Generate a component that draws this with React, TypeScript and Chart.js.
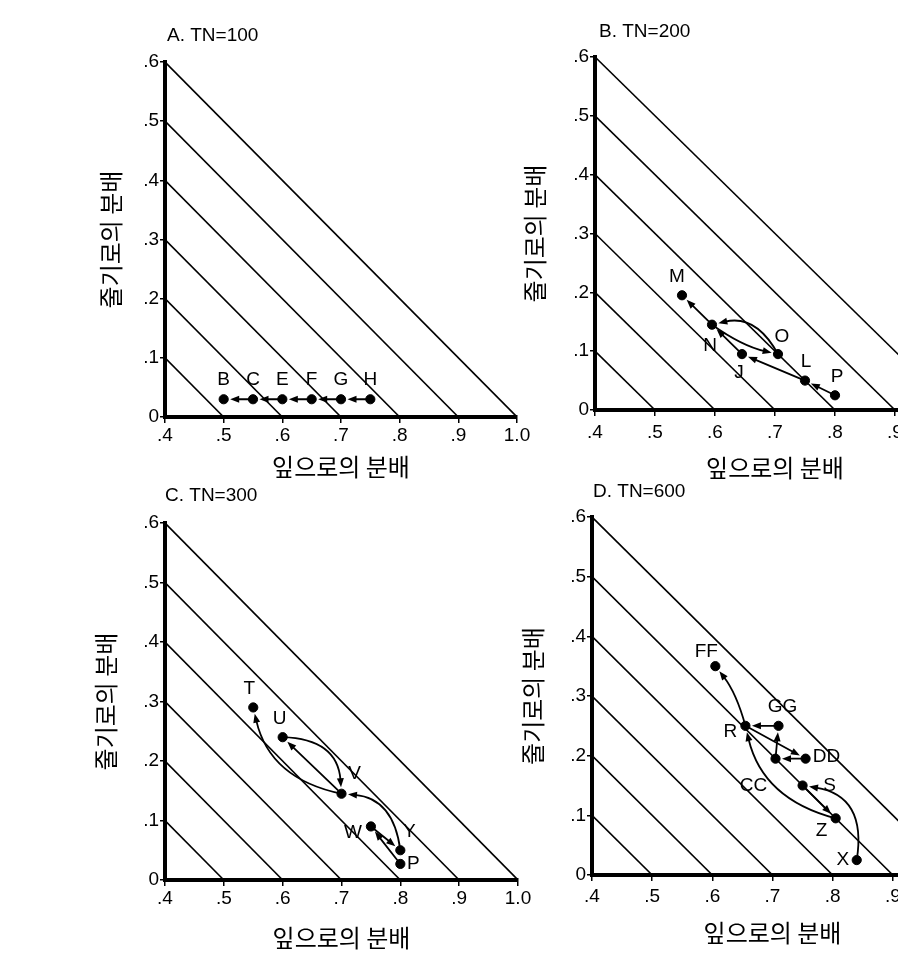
import React, { useEffect, useRef } from 'react';
import { Chart, registerables } from 'chart.js';

Chart.register(...registerables);

const LATIN = '"Liberation Sans", Arial, Helvetica, sans-serif';
const CJK = '"Noto Sans CJK KR", "Noto Sans", sans-serif';

// ---- shared axes ----
const X_TICK_VALUES = [0.4, 0.5, 0.6, 0.7, 0.8, 0.9, 1.0];
const X_TICK_LABELS = ['.4', '.5', '.6', '.7', '.8', '.9', '1.0'];
const Y_TICK_VALUES = [0, 0.1, 0.2, 0.3, 0.4, 0.5, 0.6];
const Y_TICK_LABELS = ['0', '.1', '.2', '.3', '.4', '.5', '.6'];
const DIAGONAL_TOTALS = [0.5, 0.6, 0.7, 0.8, 0.9, 1.0];
const X_TITLE = '잎으로의 분배';
const Y_TITLE = '줄기로의 분배';

// ---- Panel A ----
const A_TITLE = 'A. TN=100';
const A_NAMES = ['B', 'C', 'E', 'F', 'G', 'H'];
const A_LEAF = [0.5, 0.55, 0.6, 0.65, 0.7, 0.75];
const A_STEM = [0.03, 0.03, 0.03, 0.03, 0.03, 0.03];
const A_ARROWS: [string, string, number][] = [
  ['H', 'G', 0], ['G', 'F', 0], ['F', 'E', 0], ['E', 'C', 0], ['C', 'B', 0],
];

// ---- Panel B ----
const B_TITLE = 'B. TN=200';
const B_NAMES = ['M', 'N', 'O', 'J', 'L', 'P'];
const B_LEAF = [0.545, 0.595, 0.705, 0.645, 0.75, 0.8];
const B_STEM = [0.195, 0.145, 0.095, 0.095, 0.05, 0.025];
const B_ARROWS: [string, string, number][] = [
  ['P', 'L', 0], ['L', 'J', 0], ['J', 'N', 0], ['N', 'O', 0.1], ['O', 'N', 0.38], ['N', 'M', 0],
];

// ---- Panel C ----
const C_TITLE = 'C. TN=300';
const C_NAMES = ['T', 'U', 'V', 'W', 'Y', 'P'];
const C_LEAF = [0.55, 0.6, 0.7, 0.75, 0.8, 0.8];
const C_STEM = [0.29, 0.24, 0.145, 0.09, 0.05, 0.027];
const C_ARROWS: [string, string, number][] = [
  ['P', 'W', 0], ['W', 'Y', 0], ['Y', 'V', 0.4], ['V', 'U', 0], ['U', 'V', -0.45], ['V', 'T', -0.32],
];

// ---- Panel D ----
const D_TITLE = 'D. TN=600';
const D_NAMES = ['FF', 'R', 'GG', 'CC', 'DD', 'S', 'Z', 'X'];
const D_LEAF = [0.605, 0.655, 0.71, 0.705, 0.755, 0.75, 0.805, 0.84];
const D_STEM = [0.35, 0.25, 0.25, 0.195, 0.195, 0.15, 0.095, 0.025];
const D_ARROWS: [string, string, number][] = [
  ['X', 'S', 0.5], ['S', 'Z', 0], ['Z', 'R', -0.3], ['R', 'DD', 0], ['DD', 'CC', 0],
  ['CC', 'GG', 0], ['GG', 'R', 0], ['R', 'FF', 0.1],
];

// ---- label placement (pixel offsets from each point) ----
const A_LABEL_OFFSETS: [number, number][] = [[0, -19], [0, -19], [0, -19], [0, -19], [0, -19], [0, -19]];
const B_LABEL_OFFSETS: [number, number][] = [[-5, -19], [-2, 21], [4, -17], [-3, 19], [1, -19], [2, -19]];
const C_LABEL_OFFSETS: [number, number][] = [[-4, -19], [-3, -18], [13, -20], [-18, 6], [9, -18], [13, 0]];
const D_LABEL_OFFSETS: [number, number][] = [[-9, -14], [-15, 6], [4, -19], [-22, 27], [21, -2], [27, 0], [-14, 12], [-14, 0]];

// ---- page layout of each panel ----
type Layout = {
  left: number; top: number; right: number; bottom: number;
  titleX: number; titleY: number; yTitleX: number; xTitleY: number; xTickY: number;
};
const LAYOUT_A: Layout = { left: 165, top: 62, right: 517, bottom: 417, titleX: 167, titleY: 36, yTitleX: 111, xTitleY: 467, xTickY: 436 };
const LAYOUT_B: Layout = { left: 595, top: 57, right: 955, bottom: 410, titleX: 599, titleY: 32, yTitleX: 535, xTitleY: 468, xTickY: 433 };
const LAYOUT_C: Layout = { left: 165, top: 523, right: 518, bottom: 880, titleX: 165, titleY: 496, yTitleX: 106, xTitleY: 938, xTickY: 899 };
const LAYOUT_D: Layout = { left: 592, top: 517, right: 953, bottom: 875, titleX: 593, titleY: 492, yTitleX: 533, xTitleY: 933, xTickY: 897 };

type PanelSpec = {
  title: string; names: string[]; leaf: number[]; stem: number[];
  arrows: [string, string, number][]; labelOffsets: [number, number][]; layout: Layout;
};

const PANELS: PanelSpec[] = [
  { title: A_TITLE, names: A_NAMES, leaf: A_LEAF, stem: A_STEM, arrows: A_ARROWS, labelOffsets: A_LABEL_OFFSETS, layout: LAYOUT_A },
  { title: B_TITLE, names: B_NAMES, leaf: B_LEAF, stem: B_STEM, arrows: B_ARROWS, labelOffsets: B_LABEL_OFFSETS, layout: LAYOUT_B },
  { title: C_TITLE, names: C_NAMES, leaf: C_LEAF, stem: C_STEM, arrows: C_ARROWS, labelOffsets: C_LABEL_OFFSETS, layout: LAYOUT_C },
  { title: D_TITLE, names: D_NAMES, leaf: D_LEAF, stem: D_STEM, arrows: D_ARROWS, labelOffsets: D_LABEL_OFFSETS, layout: LAYOUT_D },
];

const AXIS_W = 130;
const AXIS_H = 80;
const PAD_TOP = 60;
const PAD_RIGHT = 40;
const TICK_FONT = 19;
const LABEL_FONT = 19;
const AXIS_TITLE_FONT = 24;

function drawArrow(ctx: CanvasRenderingContext2D, sx: number, sy: number, ex: number, ey: number, bend: number) {
  const dx = ex - sx;
  const dy = ey - sy;
  const len = Math.hypot(dx, dy) || 1;
  const nx = -dy / len;
  const ny = dx / len;
  const cx = (sx + ex) / 2 + nx * bend * len;
  const cy = (sy + ey) / 2 + ny * bend * len;
  let tx = ex - cx;
  let ty = ey - cy;
  const tl = Math.hypot(tx, ty) || 1;
  tx /= tl;
  ty /= tl;
  const gap = 6.5;
  const headLen = 9;
  const headHalf = 3.5;
  const tipX = ex - tx * gap;
  const tipY = ey - ty * gap;
  const baseX = tipX - tx * headLen;
  const baseY = tipY - ty * headLen;
  ctx.beginPath();
  ctx.moveTo(sx, sy);
  if (bend === 0) ctx.lineTo(baseX + tx * 2, baseY + ty * 2);
  else ctx.quadraticCurveTo(cx, cy, baseX + tx * 2, baseY + ty * 2);
  ctx.stroke();
  ctx.beginPath();
  ctx.moveTo(tipX, tipY);
  ctx.lineTo(baseX - ty * headHalf, baseY + tx * headHalf);
  ctx.lineTo(baseX + ty * headHalf, baseY - tx * headHalf);
  ctx.closePath();
  ctx.fill();
}

function PanelChart({ panel }: { panel: PanelSpec }) {
  const ref = useRef<HTMLCanvasElement>(null);
  const lay = panel.layout;
  const cw = lay.right - lay.left + AXIS_W + PAD_RIGHT;
  const ch = lay.bottom - lay.top + PAD_TOP + AXIS_H;

  useEffect(() => {
    const canvas = ref.current;
    if (!canvas) return;
    const points = panel.names.map((_, i) => ({ x: panel.leaf[i], y: panel.stem[i] }));
    const diagonals = DIAGONAL_TOTALS.map((c) => ({
      data: [{ x: 0.4, y: c - 0.4 }, { x: c, y: 0 }],
      showLine: true,
      borderColor: '#000',
      borderWidth: 1.6,
      pointRadius: 0,
      pointHoverRadius: 0,
      order: 2,
    }));

    const overlay = {
      id: 'overlay',
      afterDatasetsDraw(chart: any) {
        const { ctx, chartArea } = chart;
        const xs = chart.scales.x;
        const ys = chart.scales.y;
        const px = (name: string) => {
          const i = panel.names.indexOf(name);
          return [xs.getPixelForValue(panel.leaf[i]), ys.getPixelForValue(panel.stem[i])];
        };
        ctx.save();
        ctx.strokeStyle = '#000';
        ctx.fillStyle = '#000';
        ctx.lineWidth = 1.8;
        ctx.lineCap = 'round';
        panel.arrows.forEach(([from, to, bend]) => {
          const [sx, sy] = px(from);
          const [ex, ey] = px(to);
          drawArrow(ctx, sx, sy, ex, ey, bend);
        });
        ctx.font = `${LABEL_FONT}px ${LATIN}`;
        ctx.textAlign = 'center';
        ctx.textBaseline = 'middle';
        panel.names.forEach((n, i) => {
          const [x, y] = px(n);
          const [ox, oy] = panel.labelOffsets[i];
          ctx.fillText(n, x + ox, y + oy);
        });
        ctx.textAlign = 'left';
        ctx.font = `19px ${LATIN}`;
        ctx.fillText(panel.title, chartArea.left + (lay.titleX - lay.left), chartArea.top + (lay.titleY - lay.top));
        ctx.restore();
      },
    };

    const tickPad = lay.xTickY - lay.bottom - 6 - (TICK_FONT * 1.2) / 2;
    const xTitlePad = AXIS_H - (AXIS_TITLE_FONT * 1.2) / 2 - (lay.xTitleY - lay.bottom);
    const yTitlePad = lay.yTitleX - (lay.left - AXIS_W) - (AXIS_TITLE_FONT * 1.2) / 2;

    const chart = new Chart(canvas, {
      type: 'scatter',
      data: {
        datasets: [
          {
            data: points,
            backgroundColor: '#000',
            borderColor: '#000',
            pointRadius: 4.6,
            pointHoverRadius: 4.6,
            order: 0,
          } as any,
          ...(diagonals as any[]),
        ],
      },
      options: {
        responsive: false,
        animation: false,
        events: [],
        layout: { padding: { left: 0, top: PAD_TOP, right: PAD_RIGHT, bottom: 0 } },
        plugins: { legend: { display: false }, tooltip: { enabled: false }, title: { display: false } },
        scales: {
          x: {
            type: 'linear',
            min: 0.4,
            max: 1.0,
            afterFit: (s: any) => { s.height = AXIS_H; },
            afterBuildTicks: (s: any) => { s.ticks = X_TICK_VALUES.map((v) => ({ value: v })); },
            grid: { display: true, drawOnChartArea: false, drawTicks: true, tickLength: 6, color: '#000', lineWidth: 1.5 },
            border: { display: true, color: '#000', width: 4 },
            ticks: {
              color: '#000',
              font: { family: LATIN, size: TICK_FONT },
              padding: tickPad,
              maxRotation: 0,
              autoSkip: false,
              callback: (_v: any, i: number) => X_TICK_LABELS[i],
            },
            title: {
              display: true,
              text: X_TITLE,
              color: '#000',
              font: { family: CJK, size: AXIS_TITLE_FONT },
              padding: { top: 0, bottom: xTitlePad },
            },
          },
          y: {
            type: 'linear',
            min: 0,
            max: 0.6,
            afterFit: (s: any) => { s.width = AXIS_W; },
            afterBuildTicks: (s: any) => { s.ticks = Y_TICK_VALUES.map((v) => ({ value: v })); },
            grid: { display: true, drawOnChartArea: false, drawTicks: true, tickLength: 5, color: '#000', lineWidth: 1.5 },
            border: { display: true, color: '#000', width: 4 },
            ticks: {
              color: '#000',
              font: { family: LATIN, size: TICK_FONT },
              padding: 1,
              autoSkip: false,
              callback: (_v: any, i: number) => Y_TICK_LABELS[i],
            },
            title: {
              display: true,
              text: Y_TITLE,
              color: '#000',
              font: { family: CJK, size: AXIS_TITLE_FONT },
              padding: { top: yTitlePad, bottom: 0 },
            },
          },
        },
      } as any,
      plugins: [overlay],
    });
    return () => chart.destroy();
  }, []);

  return (
    <canvas
      ref={ref}
      width={cw}
      height={ch}
      style={{ position: 'absolute', left: lay.left - AXIS_W, top: lay.top - PAD_TOP, width: cw, height: ch }}
    />
  );
}

export default function App() {
  return (
    <div
      style={{
        position: 'fixed',
        left: 0,
        top: 0,
        width: 898,
        height: 965,
        overflow: 'hidden',
        background: '#fff',
      }}
    >
      {PANELS.map((p, i) => (
        <PanelChart key={i} panel={p} />
      ))}
    </div>
  );
}
